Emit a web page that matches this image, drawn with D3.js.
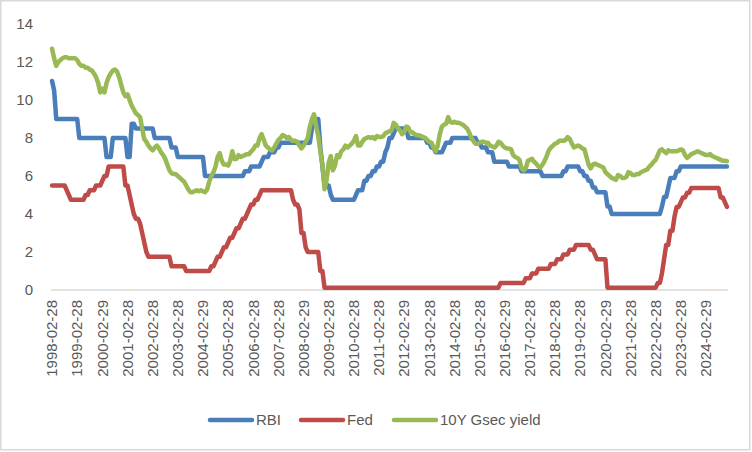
<!DOCTYPE html>
<html>
<head>
<meta charset="utf-8">
<script src="https://cdn.jsdelivr.net/npm/d3@7"></script>
<style>
  html, body { margin: 0; padding: 0; background: #fff; }
  svg { display: block; }
  text { font-family: "Liberation Sans", Arial, sans-serif; fill: #595959; }
</style>
</head>
<body>
<svg id="chart" width="752" height="452"></svg>
<script>
// ---- DATA (month-end values, Feb 1998 .. Dec 2024) ----
const seriesNames = ["RBI", "Fed", "10Y Gsec yield"];

const rbi = [
  /*1998*/ 11,10.5,9,9,9,9,9,9,9,9,9,
  /*1999*/ 9,9,8,8,8,8,8,8,8,8,8,8,
  /*2000*/ 8,8,8,7,7,7,8,8,8,8,8,8,
  /*2001*/ 8,7,7,8.75,8.75,8.5,8.5,8.5,8.5,8.5,8.5,8.5,
  /*2002*/ 8.5,8.5,8,8,8,8,8,8,8,8,7.5,7.5,
  /*2003*/ 7.5,7,7,7,7,7,7,7,7,7,7,7,
  /*2004*/ 7,7,6,6,6,6,6,6,6,6,6,6,
  /*2005*/ 6,6,6,6,6,6,6,6,6,6.25,6.25,6.25,
  /*2006*/ 6.5,6.5,6.5,6.5,6.5,6.75,7,7,7,7.25,7.25,7.25,
  /*2007*/ 7.5,7.5,7.75,7.75,7.75,7.75,7.75,7.75,7.75,7.75,7.75,7.75,
  /*2008*/ 7.75,7.75,7.75,7.75,7.75,8.5,9,9,9,7.5,6.5,5.5,
  /*2009*/ 5.5,5.5,5,4.75,4.75,4.75,4.75,4.75,4.75,4.75,4.75,4.75,
  /*2010*/ 4.75,4.75,5,5.25,5.25,5.25,5.75,5.75,6,6,6.25,6.25,
  /*2011*/ 6.5,6.5,6.75,6.75,7.25,7.5,8,8,8.25,8.5,8.5,8.5,
  /*2012*/ 8.5,8.5,8.5,8,8,8,8,8,8,8,8,8,
  /*2013*/ 7.75,7.75,7.5,7.5,7.25,7.25,7.25,7.25,7.5,7.75,7.75,7.75,
  /*2014*/ 8,8,8,8,8,8,8,8,8,8,8,8,
  /*2015*/ 7.75,7.75,7.5,7.5,7.5,7.25,7.25,7.25,6.75,6.75,6.75,6.75,
  /*2016*/ 6.75,6.75,6.75,6.5,6.5,6.5,6.5,6.5,6.5,6.25,6.25,6.25,
  /*2017*/ 6.25,6.25,6.25,6.25,6.25,6.25,6.25,6,6,6,6,6,
  /*2018*/ 6,6,6,6,6,6.25,6.25,6.5,6.5,6.5,6.5,6.5,
  /*2019*/ 6.5,6.25,6.25,6,6,5.75,5.75,5.4,5.4,5.15,5.15,5.15,
  /*2020*/ 5.15,5.15,4.4,4.4,4,4,4,4,4,4,4,4,
  /*2021*/ 4,4,4,4,4,4,4,4,4,4,4,4,
  /*2022*/ 4,4,4,4,4.4,4.9,4.9,5.4,5.9,5.9,5.9,6.25,
  /*2023*/ 6.25,6.5,6.5,6.5,6.5,6.5,6.5,6.5,6.5,6.5,6.5,6.5,
  /*2024*/ 6.5,6.5,6.5,6.5,6.5,6.5,6.5,6.5,6.5,6.5,6.5,6.5
];

const fed = [
  /*1998*/ 5.5,5.5,5.5,5.5,5.5,5.5,5.5,5.25,5,4.75,4.75,
  /*1999*/ 4.75,4.75,4.75,4.75,4.75,5,5,5.25,5.25,5.25,5.5,5.5,
  /*2000*/ 5.5,5.75,6,6,6.5,6.5,6.5,6.5,6.5,6.5,6.5,6.5,
  /*2001*/ 5.5,5.5,5,4.5,4,3.75,3.75,3.5,3,2.5,2,1.75,
  /*2002*/ 1.75,1.75,1.75,1.75,1.75,1.75,1.75,1.75,1.75,1.75,1.25,1.25,
  /*2003*/ 1.25,1.25,1.25,1.25,1.25,1,1,1,1,1,1,1,
  /*2004*/ 1,1,1,1,1,1.25,1.25,1.5,1.75,1.75,2,2.25,
  /*2005*/ 2.25,2.5,2.75,2.75,3,3.25,3.25,3.5,3.75,3.75,4,4.25,
  /*2006*/ 4.5,4.5,4.75,4.75,5,5.25,5.25,5.25,5.25,5.25,5.25,5.25,
  /*2007*/ 5.25,5.25,5.25,5.25,5.25,5.25,5.25,5.25,4.75,4.5,4.5,4.25,
  /*2008*/ 3,3,2.25,2,2,2,2,2,2,1,1,0.125,
  /*2009*/ 0.125,0.125,0.125,0.125,0.125,0.125,0.125,0.125,0.125,0.125,0.125,0.125,
  /*2010*/ 0.125,0.125,0.125,0.125,0.125,0.125,0.125,0.125,0.125,0.125,0.125,0.125,
  /*2011*/ 0.125,0.125,0.125,0.125,0.125,0.125,0.125,0.125,0.125,0.125,0.125,0.125,
  /*2012*/ 0.125,0.125,0.125,0.125,0.125,0.125,0.125,0.125,0.125,0.125,0.125,0.125,
  /*2013*/ 0.125,0.125,0.125,0.125,0.125,0.125,0.125,0.125,0.125,0.125,0.125,0.125,
  /*2014*/ 0.125,0.125,0.125,0.125,0.125,0.125,0.125,0.125,0.125,0.125,0.125,0.125,
  /*2015*/ 0.125,0.125,0.125,0.125,0.125,0.125,0.125,0.125,0.125,0.125,0.125,0.375,
  /*2016*/ 0.375,0.375,0.375,0.375,0.375,0.375,0.375,0.375,0.375,0.375,0.375,0.625,
  /*2017*/ 0.625,0.625,0.875,0.875,0.875,1.125,1.125,1.125,1.125,1.125,1.125,1.375,
  /*2018*/ 1.375,1.375,1.625,1.625,1.625,1.875,1.875,1.875,2.125,2.125,2.125,2.375,
  /*2019*/ 2.375,2.375,2.375,2.375,2.375,2.375,2.125,2.125,1.875,1.625,1.625,1.625,
  /*2020*/ 1.625,1.625,0.125,0.125,0.125,0.125,0.125,0.125,0.125,0.125,0.125,0.125,
  /*2021*/ 0.125,0.125,0.125,0.125,0.125,0.125,0.125,0.125,0.125,0.125,0.125,0.125,
  /*2022*/ 0.125,0.125,0.375,0.375,0.875,1.625,2.375,2.375,3.125,3.125,3.875,4.375,
  /*2023*/ 4.375,4.625,4.875,4.875,5.125,5.125,5.375,5.375,5.375,5.375,5.375,5.375,
  /*2024*/ 5.375,5.375,5.375,5.375,5.375,5.375,5.375,5.375,4.875,4.875,4.625,4.375
];

const gsec = [
  /*1998*/ 12.7,12.2,11.8,12.0,12.1,12.2,12.25,12.25,12.2,12.2,12.2,
  /*1999*/ 12.2,12.1,11.9,11.8,11.8,11.7,11.7,11.6,11.55,11.4,11.2,10.9,
  /*2000*/ 10.4,10.6,10.4,10.9,11.2,11.4,11.55,11.6,11.5,11.2,10.8,10.4,
  /*2001*/ 10.2,10.3,10.0,9.7,9.5,9.3,9.2,9.1,8.5,7.95,7.8,7.6,
  /*2002*/ 7.45,7.35,7.5,7.6,7.45,7.25,7.1,6.9,6.6,6.3,6.15,6.1,
  /*2003*/ 6.1,6.0,5.9,5.8,5.7,5.5,5.3,5.15,5.15,5.2,5.25,5.2,
  /*2004*/ 5.25,5.2,5.15,5.3,5.7,6.0,6.2,6.5,7.0,7.2,6.8,6.6,
  /*2005*/ 6.6,6.55,6.8,7.3,6.9,6.9,7.1,7.0,7.05,7.1,7.15,7.15,
  /*2006*/ 7.3,7.4,7.6,7.6,8.0,8.2,7.9,7.6,7.5,7.4,7.35,7.5,
  /*2007*/ 7.7,7.9,8.0,8.15,8.1,8.0,8.05,7.9,7.85,7.85,7.8,7.6,
  /*2008*/ 7.45,7.6,7.8,8.0,8.6,9.0,9.25,8.6,8.1,7.3,6.6,5.3,
  /*2009*/ 5.8,6.7,7.05,6.3,6.55,7.1,7.0,7.3,7.4,7.6,7.5,7.6,
  /*2010*/ 7.7,7.85,8.1,7.6,7.6,7.8,7.95,8.0,8.05,8.0,8.05,7.95,
  /*2011*/ 8.1,8.05,8.05,8.1,8.25,8.3,8.35,8.4,8.8,8.7,8.5,8.4,
  /*2012*/ 8.2,8.3,8.6,8.55,8.3,8.3,8.2,8.15,8.15,8.1,8.05,8.0,
  /*2013*/ 7.9,7.8,7.75,7.5,7.3,7.6,8.2,8.6,8.7,8.75,9.1,8.85,
  /*2014*/ 8.8,8.85,8.8,8.8,8.75,8.7,8.6,8.5,8.3,8.0,7.85,7.7,
  /*2015*/ 7.7,7.75,7.8,7.8,7.75,7.75,7.6,7.55,7.5,7.6,7.8,7.75,
  /*2016*/ 7.6,7.5,7.45,7.45,7.4,7.1,7.0,6.95,6.85,6.4,6.3,6.4,
  /*2017*/ 6.8,6.85,6.9,6.75,6.65,6.5,6.45,6.6,6.8,7.05,7.35,7.5,
  /*2018*/ 7.6,7.7,7.75,7.85,7.85,7.85,7.9,8.05,7.95,7.7,7.5,7.55,
  /*2019*/ 7.6,7.55,7.45,7.4,7.0,6.6,6.4,6.6,6.65,6.6,6.55,6.5,
  /*2020*/ 6.45,6.2,6.1,6.0,5.9,5.85,5.8,6.05,6.0,5.9,5.9,5.95,
  /*2021*/ 6.2,6.15,6.05,6.05,6.1,6.1,6.2,6.25,6.3,6.35,6.5,6.6,
  /*2022*/ 6.75,6.85,7.1,7.35,7.4,7.3,7.2,7.35,7.3,7.3,7.3,7.3,
  /*2023*/ 7.35,7.4,7.35,7.1,6.95,7.05,7.15,7.2,7.25,7.3,7.25,7.2,
  /*2024*/ 7.15,7.1,7.1,7.15,7.05,7.0,6.95,6.9,6.85,6.8,6.8,6.78
];

const yTicks = [0, 2, 4, 6, 8, 10, 12, 14];

const xTickLabels = [
  "1998-02-28","1999-02-28","2000-02-29","2001-02-28","2002-02-28","2003-02-28",
  "2004-02-29","2005-02-28","2006-02-28","2007-02-28","2008-02-29","2009-02-28",
  "2010-02-28","2011-02-28","2012-02-29","2013-02-28","2014-02-28","2015-02-28",
  "2016-02-29","2017-02-28","2018-02-28","2019-02-28","2020-02-29","2021-02-28",
  "2022-02-28","2023-02-28","2024-02-29"
];

// categories: month-end dates from Feb 1998 to Dec 2024
const fmt = d3.utcFormat("%Y-%m-%d");
const categories = d3.utcMonth.range(new Date(Date.UTC(1998, 2, 1)), new Date(Date.UTC(2025, 0, 2)))
  .map(d => fmt(d3.utcDay.offset(d, -1)));

// ---- CHART ----
const svg = d3.select("#chart");
const W = 752, H = 452;

svg.append("rect").attr("x", 0.75).attr("y", 0.75).attr("width", W - 3).attr("height", H - 3)
  .attr("fill", "#fff").attr("stroke", "#d9d9d9").attr("stroke-width", 1.5);

const x = d3.scaleBand().domain(categories).range([51, 728]);
const y = d3.scaleLinear().domain([0, 14]).range([290, 24]);
const cx = c => x(c) + x.bandwidth() / 2;

// y axis labels (no axis line)
const yAxis = d3.axisLeft(y).tickValues(yTicks).tickSize(0).tickPadding(0).tickFormat(d3.format("d"));
const gy = svg.append("g").attr("transform", "translate(33,0)").call(yAxis);
gy.select(".domain").remove();
gy.selectAll("text").attr("font-size", 15).attr("fill", "#595959")
  .attr("font-family", "'Liberation Sans', Arial, sans-serif");

// x axis
const tickCats = categories.filter(c => xTickLabels.includes(c));
const xAxis = d3.axisBottom(x).tickValues(tickCats).tickSize(0).tickPadding(0);
const gx = svg.append("g").attr("transform", "translate(0,290)").call(xAxis);
gx.select(".domain").attr("stroke", "#d9d9d9").attr("stroke-width", 1.5)
  .attr("d", "M51,0H728");
gx.selectAll(".tick text")
  .attr("font-size", 15).attr("fill", "#595959")
  .attr("font-family", "'Liberation Sans', Arial, sans-serif")
  .attr("text-anchor", "end")
  .attr("transform", "rotate(-90)")
  .attr("x", -10).attr("y", 0).attr("dy", "0.35em");

// lines
const colors = ["#4a7ebb", "#be4b48", "#98b954"];
const allSeries = [rbi, fed, gsec];
allSeries.forEach((vals, i) => {
  if (vals.length !== categories.length) throw new Error(seriesNames[i] + " length " + vals.length + " vs " + categories.length);
  const line = d3.line().x((d, j) => cx(categories[j])).y(d => y(d));
  svg.append("path").datum(vals).attr("d", line)
    .attr("fill", "none").attr("stroke", colors[i]).attr("stroke-width", 4.5)
    .attr("stroke-linejoin", "round").attr("stroke-linecap", "round");
});

// legend
const legendItems = [
  { x: 210, tx: 256 },
  { x: 301, tx: 347 },
  { x: 394, tx: 440 }
];
const lg = svg.append("g");
legendItems.forEach((it, i) => {
  lg.append("line").attr("x1", it.x).attr("x2", it.x + 42).attr("y1", 420).attr("y2", 420)
    .attr("stroke", colors[i]).attr("stroke-width", 4.5).attr("stroke-linecap", "round");
  lg.append("text").attr("x", it.tx).attr("y", 420).attr("dy", "0.35em")
    .attr("font-size", 15).text(seriesNames[i]);
});
</script>
</body>
</html>
